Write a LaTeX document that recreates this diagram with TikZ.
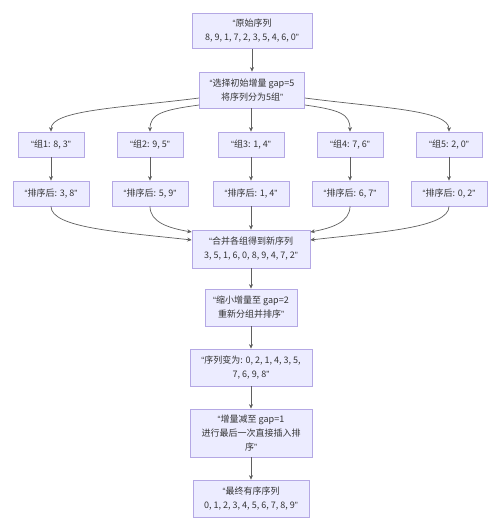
\documentclass[tikz,border=0pt]{standalone}
\usepackage{fontspec}
\setmainfont{Noto Sans CJK SC}
\newfontfamily\quotefont{Liberation Sans}
\newcommand\qopen{{\quotefont “}}
\newcommand\qclose{{\quotefont ”}}
\usepackage{xcolor}
\usetikzlibrary{arrows.meta}
\definecolor{boxfill}{HTML}{ECECFF}
\definecolor{boxline}{RGB}{180,168,228}
\definecolor{linecol}{RGB}{95,95,95}
\definecolor{txtcol}{HTML}{333333}
\begin{document}
\begin{tikzpicture}[x=1pt,y=-1pt,
  box/.style={draw=boxline,fill=boxfill,line width=0.7pt,align=center,text=txtcol,
              font=\fontsize{9}{14}\selectfont,inner sep=0pt},
  flow/.style={draw=linecol,line width=0.7pt,-{Stealth[length=4.5pt,width=4pt]}}]
 \useasboundingbox (0,0) rectangle (500,530);
 % main column
 \node[box,minimum width=120pt,minimum height=35pt] (orig) at (252,31) {\qopen 原始序列\\8, 9, 1, 7, 2, 3, 5, 4, 6, 0\qclose};
 \node[box,minimum width=105pt,minimum height=36pt] (gapfive) at (252,90) {\qopen 选择初始增量 gap=5\\将序列分为5组\qclose};
 % groups
 \node[box,minimum width=66pt,minimum height=25pt] (grpa) at (51,144.5) {\qopen 组1: 8, 3\qclose};
 \node[box,minimum width=66pt,minimum height=25pt] (grpb) at (150,144.5) {\qopen 组2: 9, 5\qclose};
 \node[box,minimum width=66pt,minimum height=25pt] (grpc) at (251,144.5) {\qopen 组3: 1, 4\qclose};
 \node[box,minimum width=66pt,minimum height=25pt] (grpd) at (350,144.5) {\qopen 组4: 7, 6\qclose};
 \node[box,minimum width=66pt,minimum height=25pt] (grpe) at (449,144.5) {\qopen 组5: 2, 0\qclose};
 \node[box,minimum width=76pt,minimum height=25pt] (srta) at (51,193.5) {\qopen 排序后: 3, 8\qclose};
 \node[box,minimum width=76pt,minimum height=25pt] (srtb) at (150,193.5) {\qopen 排序后: 5, 9\qclose};
 \node[box,minimum width=76pt,minimum height=25pt] (srtc) at (251,193.5) {\qopen 排序后: 1, 4\qclose};
 \node[box,minimum width=76pt,minimum height=25pt] (srtd) at (350,193.5) {\qopen 排序后: 6, 7\qclose};
 \node[box,minimum width=76pt,minimum height=25pt] (srte) at (449,193.5) {\qopen 排序后: 0, 2\qclose};
 \node[box,minimum width=118pt,minimum height=38pt] (merge) at (251,249) {\qopen 合并各组得到新序列\\3, 5, 1, 6, 0, 8, 9, 4, 7, 2\qclose};
 \node[box,minimum width=92pt,minimum height=37pt] (gaptwo) at (251,307.5) {\qopen 缩小增量至 gap=2\\重新分组并排序\qclose};
 \node[box,minimum width=122pt,minimum height=37pt] (seqtwo) at (251,367.5) {\qopen 序列变为: 0, 2, 1, 4, 3, 5,\\7, 6, 9, 8\qclose};
 \node[box,minimum width=122pt,minimum height=48pt] (gapone) at (251,433) {\qopen 增量减至 gap=1\\进行最后一次直接插入排\\序\qclose};
 \node[box,minimum width=116pt,minimum height=37pt] (final) at (251,498.5) {\qopen 最终有序序列\\0, 1, 2, 3, 4, 5, 6, 7, 8, 9\qclose};
 % connectors
 \draw[flow] (orig.south) -- (gapfive.north);
 \draw[flow] ([yshift=-8pt]gapfive.west) .. controls (120,108) and (51,110) .. (grpa.north);
 \draw[flow] ([yshift=-15pt]gapfive.west) .. controls (162,110) and (150,114) .. (grpb.north);
 \draw[flow] (gapfive.south -| grpc) -- (grpc.north);
 \draw[flow] ([yshift=-15pt]gapfive.east) .. controls (340,110) and (350,114) .. (grpd.north);
 \draw[flow] ([yshift=-8pt]gapfive.east) .. controls (382,108) and (449,110) .. (grpe.north);
 \draw[flow] (grpa) -- (srta);
 \draw[flow] (grpb) -- (srtb);
 \draw[flow] (grpc) -- (srtc);
 \draw[flow] (grpd) -- (srtd);
 \draw[flow] (grpe) -- (srte);
 \draw[flow] (srta.south) .. controls (51,228) and (120,232) .. ([yshift=9pt]merge.west);
 \draw[flow] (srtb.south) .. controls (150,222) and (168,228) .. ([yshift=17pt]merge.west);
 \draw[flow] (srtc) -- (merge);
 \draw[flow] (srtd.south) .. controls (350,222) and (332,228) .. ([yshift=17pt]merge.east);
 \draw[flow] (srte.south) .. controls (449,228) and (380,232) .. ([yshift=9pt]merge.east);
 \draw[flow] (merge) -- (gaptwo);
 \draw[flow] (gaptwo) -- (seqtwo);
 \draw[flow] (seqtwo) -- (gapone);
 \draw[flow] (gapone) -- (final);
\end{tikzpicture}
\end{document}
